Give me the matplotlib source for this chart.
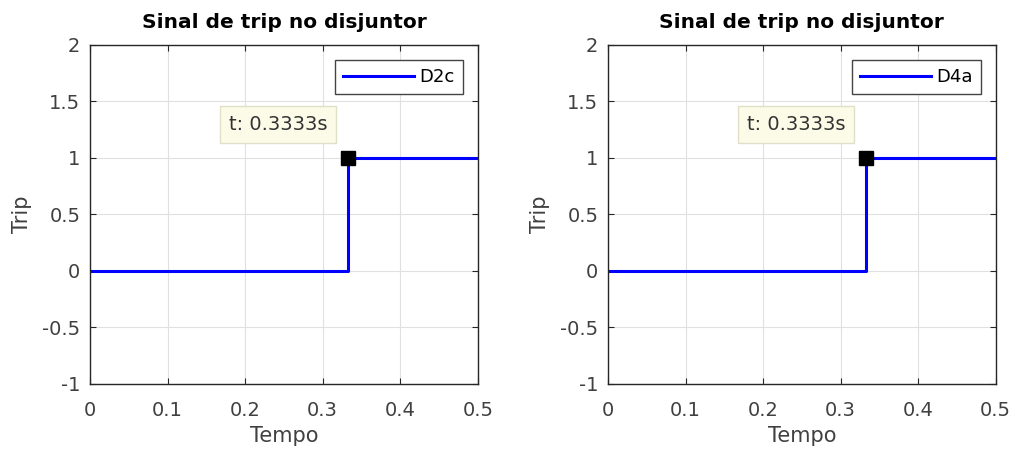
import numpy as np
import matplotlib
matplotlib.use('Agg')
import matplotlib.pyplot as plt

# trip signal data (time in s, trip state)
tempo = [0.0, 0.3333, 0.3333, 0.5]
trip_d2c = [0, 0, 1, 1]
trip_d4a = [0, 0, 1, 1]
t_trip = 0.3333
labels = ['D2c', 'D4a']
xticks = [0, 0.1, 0.2, 0.3, 0.4, 0.5]
yticks = [-1, -0.5, 0, 0.5, 1, 1.5, 2]

plt.rcParams['font.family'] = ['DejaVu Sans']

fig = plt.figure(figsize=(10.15, 4.51), dpi=100)
ax_pos = [[0.0887, 0.1486, 0.382, 0.7517],
          [0.599, 0.1486, 0.382, 0.7517]]

for pos, trip, lab in zip(ax_pos, [trip_d2c, trip_d4a], labels):
    ax = fig.add_axes(pos)
    ax.plot(tempo, trip, color='#0000ff', lw=2.2, label=lab)
    ax.plot([t_trip], [1], 's', color='black', ms=10, zorder=5)
    ax.set_xlim(0, 0.5)
    ax.set_ylim(-1, 2)
    ax.set_xticks(xticks)
    ax.set_xticklabels(['0', '0.1', '0.2', '0.3', '0.4', '0.5'])
    ax.set_yticks(yticks)
    ax.set_yticklabels(['-1', '-0.5', '0', '0.5', '1', '1.5', '2'])
    ax.grid(True, color='#e0e0e0', lw=0.8)
    ax.tick_params(direction='in', length=4, colors='#262626', labelsize=14,
                   top=True, right=True, labelcolor='#404040')
    ax.tick_params(axis='x', pad=12)
    ax.tick_params(axis='y', pad=7)
    for s in ax.spines.values():
        s.set_color('#262626')
        s.set_linewidth(1.0)
    ax.set_title('Sinal de trip no disjuntor', fontsize=14.5, fontweight='bold', pad=12)
    ax.set_xlabel('Tempo', fontsize=15, color='#404040')
    ax.set_ylabel('Trip', fontsize=15, color='#404040')
    ax.xaxis.set_label_coords(0.5, -0.125)
    ax.yaxis.set_label_coords(-0.15, 0.5)
    leg = ax.legend(loc='upper right', fontsize=13, handlelength=3.9,
                    handletextpad=0.3, fancybox=False, framealpha=1,
                    borderpad=0.45, borderaxespad=0,
                    bbox_to_anchor=(0.961, 0.956))
    leg.get_frame().set_edgecolor('#444444')
    ax.annotate('t: 0.3333s', xy=(t_trip, 1), xytext=(0.243, 1.296),
                textcoords='data', fontsize=14, color='#333333',
                ha='center', va='center',
                bbox=dict(boxstyle='square,pad=0.45', fc='#fbfbe8', ec='#e0e0c8'))

fig.savefig('out.png', dpi=100)
